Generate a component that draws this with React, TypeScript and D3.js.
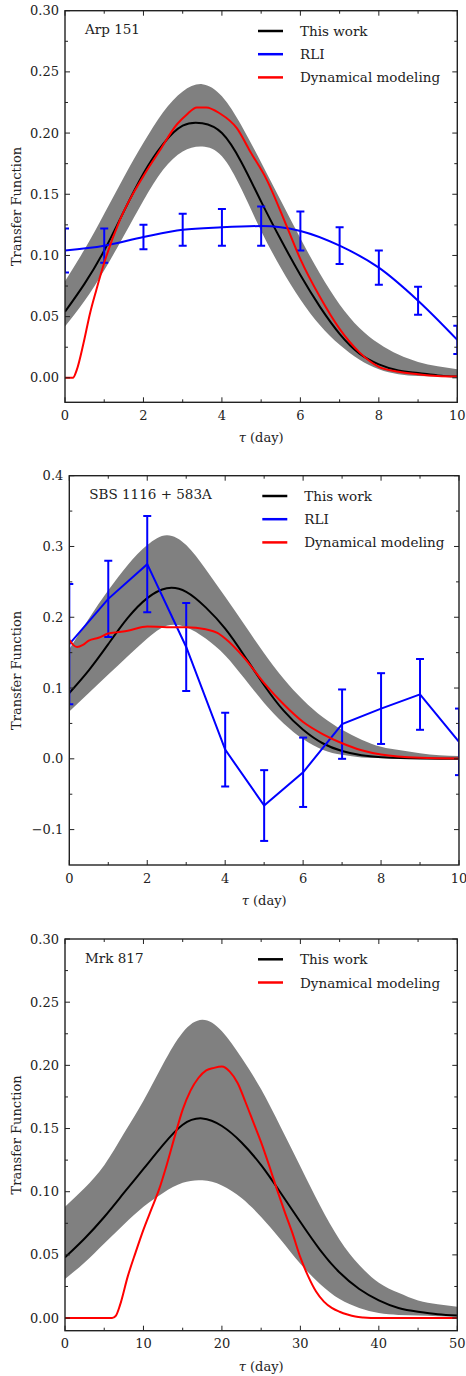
import { useRef, useEffect } from 'react';
import * as d3 from 'd3';

const FONT = '"DejaVu Serif", serif';
const INK = '#222';
const BAND = '#808080';
const BLUE = '#0000ff';
const RED = '#ff0000';

// ---- Arp 151 ----
const arpTau = [0, 0.5, 1, 1.5, 2, 2.5, 3, 3.5, 4, 4.5, 5, 5.5, 6, 6.5, 7, 7.5, 8, 8.5, 9, 9.5, 10];
const arpFit = [0.054, 0.077, 0.104, 0.136, 0.167, 0.191, 0.206, 0.208, 0.2, 0.176, 0.144, 0.113, 0.084, 0.058, 0.036, 0.02, 0.011, 0.006, 0.004, 0.002, 0.001];
const arpUpper = [0.079, 0.105, 0.134, 0.164, 0.192, 0.217, 0.234, 0.24, 0.23, 0.206, 0.176, 0.145, 0.114, 0.085, 0.06, 0.041, 0.028, 0.019, 0.013, 0.0095, 0.007];
const arpLower = [0.042, 0.063, 0.088, 0.116, 0.145, 0.17, 0.185, 0.189, 0.181, 0.154, 0.12, 0.09, 0.064, 0.043, 0.027, 0.015, 0.007, 0.003, 0.0015, 0.001, 0.0006];
const arpDynTau = [0, 0.2, 0.3, 0.47, 0.64, 0.8, 1, 1.4, 2, 2.42, 2.85, 3.1, 3.36, 3.6, 3.95, 4.38, 4.72, 5.14, 5.65, 6, 6.5, 7, 7.5, 8, 8.5, 9, 9.5, 10];
const arpDyn = [0, 0, 0.0065, 0.028, 0.053, 0.072, 0.094, 0.129, 0.165, 0.186, 0.207, 0.215, 0.221, 0.221, 0.216, 0.204, 0.185, 0.162, 0.124, 0.097, 0.066, 0.04, 0.021, 0.009, 0.005, 0.003, 0.0015, 0.001];
const arpRliTau = [0, 1, 2, 3, 4, 5, 6, 7, 8, 9, 10];
const arpRli = [0.104, 0.108, 0.115, 0.121, 0.123, 0.124, 0.12, 0.108, 0.09, 0.063, 0.031];
const arpRliErr = [0.018, 0.014, 0.01, 0.013, 0.015, 0.016, 0.016, 0.015, 0.014, 0.0115, 0.0115];

// ---- SBS 1116+583A ----
const sbsTau = [0, 0.5, 1, 1.5, 2, 2.5, 3, 3.5, 4, 4.5, 5, 5.5, 6, 6.5, 7, 7.5, 8, 8.5, 9, 9.5, 10];
const sbsFit = [0.093, 0.125, 0.162, 0.199, 0.227, 0.241, 0.236, 0.214, 0.184, 0.145, 0.104, 0.068, 0.041, 0.022, 0.011, 0.005, 0.0023, 0.001, 0.0005, 0.0002, 0];
const sbsUpper = [0.155, 0.198, 0.238, 0.274, 0.302, 0.316, 0.302, 0.268, 0.229, 0.189, 0.149, 0.113, 0.083, 0.059, 0.041, 0.027, 0.017, 0.012, 0.008, 0.005, 0.004];
const sbsLower = [0.067, 0.093, 0.119, 0.145, 0.17, 0.188, 0.186, 0.17, 0.146, 0.113, 0.079, 0.05, 0.028, 0.013, 0.0056, 0.002, 0.001, 0.0005, 0, 0, 0];
const sbsDynTau = [0, 0.1, 0.2, 0.35, 0.5, 0.75, 1, 1.25, 1.5, 2, 2.5, 3, 3.5, 3.8, 4, 4.5, 5, 5.5, 6, 6.5, 7, 7.5, 8, 9, 10];
const sbsDyn = [0.168, 0.161, 0.158, 0.161, 0.167, 0.171, 0.177, 0.179, 0.181, 0.187, 0.186, 0.186, 0.183, 0.178, 0.17, 0.142, 0.107, 0.077, 0.052, 0.035, 0.022, 0.012, 0.006, 0.0015, 0.0005];
const sbsRliTau = [0, 1, 2, 3, 4, 5, 6, 7, 8, 9, 10];
const sbsRli = [0.162, 0.226, 0.275, 0.158, 0.013, -0.066, -0.019, 0.049, 0.071, 0.091, 0.024];
const sbsRliErr = [0.085, 0.054, 0.068, 0.062, 0.052, 0.05, 0.049, 0.049, 0.05, 0.05, 0.047];

// ---- Mrk 817 ----
const mrkTau = [0, 2.5, 5, 7.5, 10, 12.5, 15, 17.5, 20, 22.5, 25, 27.5, 30, 32.5, 35, 37.5, 40, 42.5, 45, 47.5, 50];
const mrkFit = [0.048, 0.063, 0.08, 0.099, 0.118, 0.137, 0.153, 0.158, 0.152, 0.139, 0.121, 0.099, 0.076, 0.054, 0.036, 0.023, 0.014, 0.008, 0.005, 0.003, 0.002];
const mrkUpper = [0.088, 0.103, 0.121, 0.146, 0.172, 0.201, 0.226, 0.236, 0.227, 0.206, 0.181, 0.151, 0.12, 0.089, 0.062, 0.042, 0.028, 0.02, 0.014, 0.011, 0.009];
const mrkLower = [0.031, 0.044, 0.059, 0.074, 0.088, 0.099, 0.107, 0.109, 0.105, 0.095, 0.08, 0.062, 0.043, 0.027, 0.015, 0.008, 0.004, 0.0025, 0.002, 0.0015, 0.001];
const mrkDynTau = [0, 6, 6.5, 7, 8, 9, 10, 11, 12, 13, 14, 15, 16, 17, 18, 19, 20, 21, 22, 23, 24, 25, 26, 27, 28, 29, 30, 31, 32, 33, 34, 35, 36, 37, 38, 40, 50];
const mrkDyn = [0, 0, 0.002, 0.01, 0.033, 0.052, 0.07, 0.086, 0.102, 0.122, 0.144, 0.165, 0.18, 0.19, 0.196, 0.198, 0.199, 0.195, 0.186, 0.171, 0.155, 0.139, 0.121, 0.102, 0.084, 0.067, 0.048, 0.033, 0.021, 0.013, 0.008, 0.005, 0.0028, 0.0012, 0.0005, 0, 0];

// ---- ticks ----
const xMajor10 = [0, 2, 4, 6, 8, 10];
const xMinor10 = [1, 3, 5, 7, 9];
const xMajor50 = [0, 10, 20, 30, 40, 50];
const xMinor50 = [5, 15, 25, 35, 45];
const yMajor30 = [0, 0.05, 0.1, 0.15, 0.2, 0.25, 0.3];
const yMinor30 = [0.025, 0.075, 0.125, 0.175, 0.225, 0.275];
const yMajor40 = [-0.1, 0, 0.1, 0.2, 0.3, 0.4];
const yMinor40 = [-0.05, 0.05, 0.15, 0.25, 0.35];

interface PanelSpec {
	name: string;
	box: { left: number; right: number; top: number; bottom: number };
	xDomain: [number, number];
	yDomain: [number, number];
	xMajor: number[];
	xMinor: number[];
	yMajor: number[];
	yMinor: number[];
	yFormat: string;
	tau: number[];
	fit: number[];
	upper: number[];
	lower: number[];
	dynTau: number[];
	dyn: number[];
	rliTau?: number[];
	rli?: number[];
	rliErr?: number[];
	rliSmooth?: boolean;
}

const panels: PanelSpec[] = [
	{
		name: 'Arp 151',
		box: { left: 65, right: 457.3, top: 10.7, bottom: 402.3 },
		xDomain: [0, 10],
		yDomain: [-0.02, 0.3],
		xMajor: xMajor10,
		xMinor: xMinor10,
		yMajor: yMajor30,
		yMinor: yMinor30,
		yFormat: '.2f',
		tau: arpTau,
		fit: arpFit,
		upper: arpUpper,
		lower: arpLower,
		dynTau: arpDynTau,
		dyn: arpDyn,
		rliTau: arpRliTau,
		rli: arpRli,
		rliErr: arpRliErr,
		rliSmooth: true,
	},
	{
		name: 'SBS 1116 + 583A',
		box: { left: 69.3, right: 459, top: 475.7, bottom: 865 },
		xDomain: [0, 10],
		yDomain: [-0.15, 0.4],
		xMajor: xMajor10,
		xMinor: xMinor10,
		yMajor: yMajor40,
		yMinor: yMinor40,
		yFormat: '.1f',
		tau: sbsTau,
		fit: sbsFit,
		upper: sbsUpper,
		lower: sbsLower,
		dynTau: sbsDynTau,
		dyn: sbsDyn,
		rliTau: sbsRliTau,
		rli: sbsRli,
		rliErr: sbsRliErr,
		rliSmooth: false,
	},
	{
		name: 'Mrk 817',
		box: { left: 65, right: 457.3, top: 939, bottom: 1330.7 },
		xDomain: [0, 50],
		yDomain: [-0.01, 0.3],
		xMajor: xMajor50,
		xMinor: xMinor50,
		yMajor: yMajor30,
		yMinor: yMinor30,
		yFormat: '.2f',
		tau: mrkTau,
		fit: mrkFit,
		upper: mrkUpper,
		lower: mrkLower,
		dynTau: mrkDynTau,
		dyn: mrkDyn,
	},
];

function drawPanel(svg: d3.Selection<SVGSVGElement, unknown, null, undefined>, p: PanelSpec, idx: number) {
	const { left, right, top, bottom } = p.box;
	const x = d3.scaleLinear().domain(p.xDomain).range([left, right]);
	const y = d3.scaleLinear().domain(p.yDomain).range([bottom, top]);
	const g = svg.append('g');

	const clipId = `clip-${idx}`;
	svg.append('defs')
		.append('clipPath')
		.attr('id', clipId)
		.append('rect')
		.attr('x', left)
		.attr('y', top)
		.attr('width', right - left)
		.attr('height', bottom - top);

	const plot = g.append('g').attr('clip-path', `url(#${clipId})`);

	// uncertainty band
	const band = d3
		.area<number>()
		.x((_, i) => x(p.tau[i]))
		.y0((_, i) => y(p.lower[i]))
		.y1((_, i) => y(p.upper[i]))
		.curve(d3.curveNatural);
	plot.append('path').attr('d', band(p.tau)).attr('fill', BAND);

	// this work
	const fitLine = d3
		.line<number>()
		.x((_, i) => x(p.tau[i]))
		.y((v) => y(v))
		.curve(d3.curveNatural);
	plot.append('path')
		.attr('d', fitLine(p.fit))
		.attr('fill', 'none')
		.attr('stroke', '#000')
		.attr('stroke-width', 2);

	// RLI
	if (p.rli && p.rliTau && p.rliErr) {
		const rliTau = p.rliTau;
		const rliLine = d3
			.line<number>()
			.x((_, i) => x(rliTau[i]))
			.y((v) => y(v))
			.curve(p.rliSmooth ? d3.curveMonotoneX : d3.curveLinear);
		plot.append('path')
			.attr('d', rliLine(p.rli))
			.attr('fill', 'none')
			.attr('stroke', BLUE)
			.attr('stroke-width', 2);

		const cap = 4;
		p.rli.forEach((v, i) => {
			const e = p.rliErr![i];
			const cx = x(rliTau[i]);
			const yHi = y(v + e);
			const yLo = y(v - e);
			const eb = plot.append('g').attr('stroke', BLUE).attr('stroke-width', 2);
			eb.append('line').attr('x1', cx).attr('x2', cx).attr('y1', yHi).attr('y2', yLo);
			eb.append('line').attr('x1', cx - cap).attr('x2', cx + cap).attr('y1', yHi).attr('y2', yHi);
			eb.append('line').attr('x1', cx - cap).attr('x2', cx + cap).attr('y1', yLo).attr('y2', yLo);
		});
	}

	// dynamical modeling
	const dynLine = d3
		.line<number>()
		.x((_, i) => x(p.dynTau[i]))
		.y((v) => y(v))
		.curve(d3.curveMonotoneX);
	plot.append('path')
		.attr('d', dynLine(p.dyn))
		.attr('fill', 'none')
		.attr('stroke', RED)
		.attr('stroke-width', 2);

	// frame
	g.append('rect')
		.attr('x', left)
		.attr('y', top)
		.attr('width', right - left)
		.attr('height', bottom - top)
		.attr('fill', 'none')
		.attr('stroke', INK)
		.attr('stroke-width', 1.4);

	// inward ticks on all four sides
	const ticks = g.append('g').attr('stroke', INK).attr('stroke-width', 1);
	const MAJ = 5;
	const MIN = 3;
	const xTick = (vals: number[], len: number) =>
		vals.forEach((v) => {
			ticks.append('line').attr('x1', x(v)).attr('x2', x(v)).attr('y1', bottom).attr('y2', bottom - len);
			ticks.append('line').attr('x1', x(v)).attr('x2', x(v)).attr('y1', top).attr('y2', top + len);
		});
	const yTick = (vals: number[], len: number) =>
		vals.forEach((v) => {
			ticks.append('line').attr('x1', left).attr('x2', left + len).attr('y1', y(v)).attr('y2', y(v));
			ticks.append('line').attr('x1', right).attr('x2', right - len).attr('y1', y(v)).attr('y2', y(v));
		});
	xTick(p.xMajor, MAJ);
	xTick(p.xMinor, MIN);
	yTick(p.yMajor, MAJ);
	yTick(p.yMinor, MIN);

	const fmt = d3.format(p.yFormat);
	const labels = g.append('g').attr('font-family', FONT).attr('font-size', 13).attr('fill', INK);
	p.xMajor.forEach((v) => {
		labels.append('text')
			.attr('x', x(v))
			.attr('y', bottom + 17.5)
			.attr('text-anchor', 'middle')
			.text(String(v));
	});
	p.yMajor.forEach((v) => {
		labels.append('text')
			.attr('x', left - 6)
			.attr('y', y(v) + 4.5)
			.attr('text-anchor', 'end')
			.text(fmt(v));
	});

	// axis titles
	const xt = labels.append('text')
		.attr('x', (left + right) / 2)
		.attr('y', bottom + 40)
		.attr('text-anchor', 'middle');
	xt.append('tspan').attr('font-style', 'italic').text('τ');
	xt.append('tspan').text(' (day)');

	labels.append('text')
		.attr('transform', `translate(20.5,${(top + bottom) / 2}) rotate(-90)`)
		.attr('text-anchor', 'middle')
		.text('Transfer Function');

	// object name
	labels.append('text')
		.attr('x', left + 20)
		.attr('y', top + 23.5)
		.attr('font-size', 13.5)
		.text(p.name);

	// legend
	const entries: [string, string][] = [['This work', '#000']];
	if (p.rli) entries.push(['RLI', BLUE]);
	entries.push(['Dynamical modeling', RED]);
	entries.forEach(([label, color], i) => {
		const ly = top + 20.3 + i * 23.2;
		g.append('line')
			.attr('x1', left + 193)
			.attr('x2', left + 218)
			.attr('y1', ly)
			.attr('y2', ly)
			.attr('stroke', color)
			.attr('stroke-width', 2.5);
		labels.append('text')
			.attr('x', left + 235)
			.attr('y', ly + 5)
			.attr('font-size', 13.5)
			.text(label);
	});
}

export default function App() {
	const svgRef = useRef<SVGSVGElement>(null);

	useEffect(() => {
		const svg = d3.select(svgRef.current!);
		svg.selectAll('*').remove();
		panels.forEach((p, i) => drawPanel(svg as any, p, i));
	}, []);

	return (
		<svg
			ref={svgRef}
			width={466}
			height={1376}
			style={{ position: 'absolute', left: 0, top: 0, display: 'block', background: '#fff' }}
		/>
	);
}
